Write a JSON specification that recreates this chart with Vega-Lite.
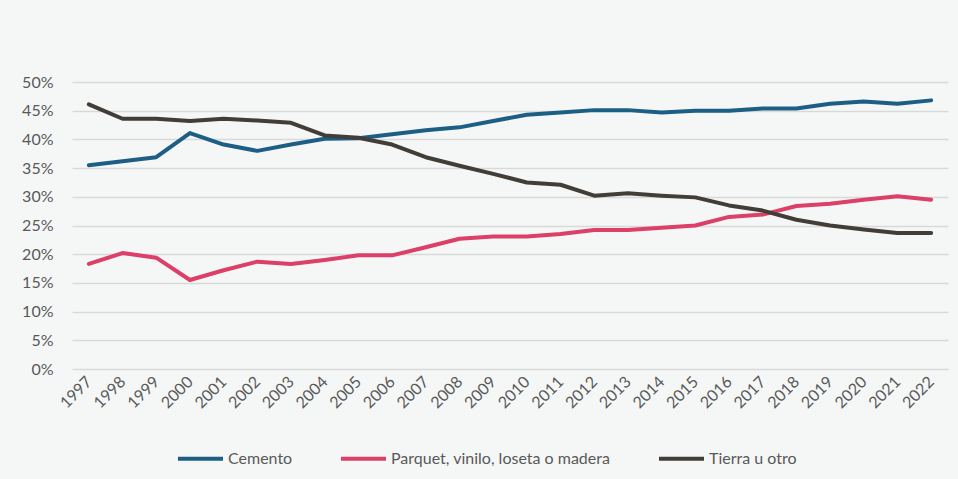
{
  "$schema": "https://vega.github.io/schema/vega-lite/v6.json",
  "width": 876,
  "height": 287,
  "autosize": {"type": "none"},
  "padding": {"left": 72, "top": 82, "right": 10, "bottom": 110},
  "background": "#f5f7f7",
  "config": {
    "view": {"stroke": null},
    "font": "Lato"
  },
  "datasets": {
    "d": [
      {"year": "1997", "serie": "Cemento", "v": 0.355},
      {"year": "1998", "serie": "Cemento", "v": 0.362},
      {"year": "1999", "serie": "Cemento", "v": 0.369},
      {"year": "2000", "serie": "Cemento", "v": 0.411},
      {"year": "2001", "serie": "Cemento", "v": 0.391},
      {"year": "2002", "serie": "Cemento", "v": 0.380},
      {"year": "2003", "serie": "Cemento", "v": 0.391},
      {"year": "2004", "serie": "Cemento", "v": 0.401},
      {"year": "2005", "serie": "Cemento", "v": 0.402},
      {"year": "2006", "serie": "Cemento", "v": 0.409},
      {"year": "2007", "serie": "Cemento", "v": 0.416},
      {"year": "2008", "serie": "Cemento", "v": 0.421},
      {"year": "2009", "serie": "Cemento", "v": 0.432},
      {"year": "2010", "serie": "Cemento", "v": 0.443},
      {"year": "2011", "serie": "Cemento", "v": 0.447},
      {"year": "2012", "serie": "Cemento", "v": 0.451},
      {"year": "2013", "serie": "Cemento", "v": 0.451},
      {"year": "2014", "serie": "Cemento", "v": 0.447},
      {"year": "2015", "serie": "Cemento", "v": 0.450},
      {"year": "2016", "serie": "Cemento", "v": 0.450},
      {"year": "2017", "serie": "Cemento", "v": 0.454},
      {"year": "2018", "serie": "Cemento", "v": 0.454},
      {"year": "2019", "serie": "Cemento", "v": 0.462},
      {"year": "2020", "serie": "Cemento", "v": 0.466},
      {"year": "2021", "serie": "Cemento", "v": 0.462},
      {"year": "2022", "serie": "Cemento", "v": 0.468},
      {"year": "1997", "serie": "Parquet, vinilo, loseta o madera", "v": 0.183},
      {"year": "1998", "serie": "Parquet, vinilo, loseta o madera", "v": 0.202},
      {"year": "1999", "serie": "Parquet, vinilo, loseta o madera", "v": 0.194},
      {"year": "2000", "serie": "Parquet, vinilo, loseta o madera", "v": 0.155},
      {"year": "2001", "serie": "Parquet, vinilo, loseta o madera", "v": 0.172},
      {"year": "2002", "serie": "Parquet, vinilo, loseta o madera", "v": 0.187},
      {"year": "2003", "serie": "Parquet, vinilo, loseta o madera", "v": 0.183},
      {"year": "2004", "serie": "Parquet, vinilo, loseta o madera", "v": 0.190},
      {"year": "2005", "serie": "Parquet, vinilo, loseta o madera", "v": 0.198},
      {"year": "2006", "serie": "Parquet, vinilo, loseta o madera", "v": 0.198},
      {"year": "2007", "serie": "Parquet, vinilo, loseta o madera", "v": 0.212},
      {"year": "2008", "serie": "Parquet, vinilo, loseta o madera", "v": 0.227},
      {"year": "2009", "serie": "Parquet, vinilo, loseta o madera", "v": 0.231},
      {"year": "2010", "serie": "Parquet, vinilo, loseta o madera", "v": 0.231},
      {"year": "2011", "serie": "Parquet, vinilo, loseta o madera", "v": 0.235},
      {"year": "2012", "serie": "Parquet, vinilo, loseta o madera", "v": 0.242},
      {"year": "2013", "serie": "Parquet, vinilo, loseta o madera", "v": 0.242},
      {"year": "2014", "serie": "Parquet, vinilo, loseta o madera", "v": 0.246},
      {"year": "2015", "serie": "Parquet, vinilo, loseta o madera", "v": 0.250},
      {"year": "2016", "serie": "Parquet, vinilo, loseta o madera", "v": 0.265},
      {"year": "2017", "serie": "Parquet, vinilo, loseta o madera", "v": 0.269},
      {"year": "2018", "serie": "Parquet, vinilo, loseta o madera", "v": 0.284},
      {"year": "2019", "serie": "Parquet, vinilo, loseta o madera", "v": 0.288},
      {"year": "2020", "serie": "Parquet, vinilo, loseta o madera", "v": 0.295},
      {"year": "2021", "serie": "Parquet, vinilo, loseta o madera", "v": 0.301},
      {"year": "2022", "serie": "Parquet, vinilo, loseta o madera", "v": 0.295},
      {"year": "1997", "serie": "Tierra u otro", "v": 0.461},
      {"year": "1998", "serie": "Tierra u otro", "v": 0.436},
      {"year": "1999", "serie": "Tierra u otro", "v": 0.436},
      {"year": "2000", "serie": "Tierra u otro", "v": 0.432},
      {"year": "2001", "serie": "Tierra u otro", "v": 0.436},
      {"year": "2002", "serie": "Tierra u otro", "v": 0.433},
      {"year": "2003", "serie": "Tierra u otro", "v": 0.429},
      {"year": "2004", "serie": "Tierra u otro", "v": 0.407},
      {"year": "2005", "serie": "Tierra u otro", "v": 0.403},
      {"year": "2006", "serie": "Tierra u otro", "v": 0.391},
      {"year": "2007", "serie": "Tierra u otro", "v": 0.369},
      {"year": "2008", "serie": "Tierra u otro", "v": 0.354},
      {"year": "2009", "serie": "Tierra u otro", "v": 0.340},
      {"year": "2010", "serie": "Tierra u otro", "v": 0.325},
      {"year": "2011", "serie": "Tierra u otro", "v": 0.321},
      {"year": "2012", "serie": "Tierra u otro", "v": 0.302},
      {"year": "2013", "serie": "Tierra u otro", "v": 0.306},
      {"year": "2014", "serie": "Tierra u otro", "v": 0.302},
      {"year": "2015", "serie": "Tierra u otro", "v": 0.299},
      {"year": "2016", "serie": "Tierra u otro", "v": 0.285},
      {"year": "2017", "serie": "Tierra u otro", "v": 0.276},
      {"year": "2018", "serie": "Tierra u otro", "v": 0.260},
      {"year": "2019", "serie": "Tierra u otro", "v": 0.250},
      {"year": "2020", "serie": "Tierra u otro", "v": 0.243},
      {"year": "2021", "serie": "Tierra u otro", "v": 0.237},
      {"year": "2022", "serie": "Tierra u otro", "v": 0.237}
    ]
  },
  "data": {"name": "d"},
  "mark": {"type": "line", "strokeWidth": 4, "strokeCap": "round", "strokeJoin": "round"},
  "encoding": {
    "x": {
      "field": "year",
      "type": "ordinal",
      "scale": {"type": "point", "padding": 0.5},
      "axis": {
        "title": null,
        "domain": false,
        "ticks": false,
        "labelAngle": -45,
        "labelAlign": "right",
        "labelBaseline": "middle",
        "labelPadding": 10,
        "labelFontSize": 16,
        "labelColor": "#595959"
      }
    },
    "y": {
      "field": "v",
      "type": "quantitative",
      "scale": {"domain": [0, 0.5], "nice": false},
      "axis": {
        "title": null,
        "format": ".0%",
        "values": [0, 0.05, 0.1, 0.15, 0.2, 0.25, 0.3, 0.35, 0.4, 0.45, 0.5],
        "domain": false,
        "ticks": false,
        "labelPadding": 19,
        "labelFontSize": 16,
        "labelColor": "#595959",
        "gridColor": "#d9d9d9",
        "gridWidth": 1.5
      }
    },
    "color": {
      "field": "serie",
      "type": "nominal",
      "sort": ["Cemento", "Parquet, vinilo, loseta o madera", "Tierra u otro"],
      "scale": {
        "domain": ["Cemento", "Parquet, vinilo, loseta o madera", "Tierra u otro"],
        "range": ["#1d5e85", "#dc3f68", "#433d37"]
      },
      "legend": {
        "title": null,
        "orient": "none",
        "legendX": 104,
        "legendY": 352,
        "direction": "horizontal",
        "symbolType": "stroke",
        "symbolSize": 2025,
        "symbolStrokeWidth": 4,
        "labelFontSize": 16,
        "labelColor": "#595959",
        "labelOffset": 3,
        "labelLimit": 400,
        "columnPadding": 40
      }
    }
  }
}
